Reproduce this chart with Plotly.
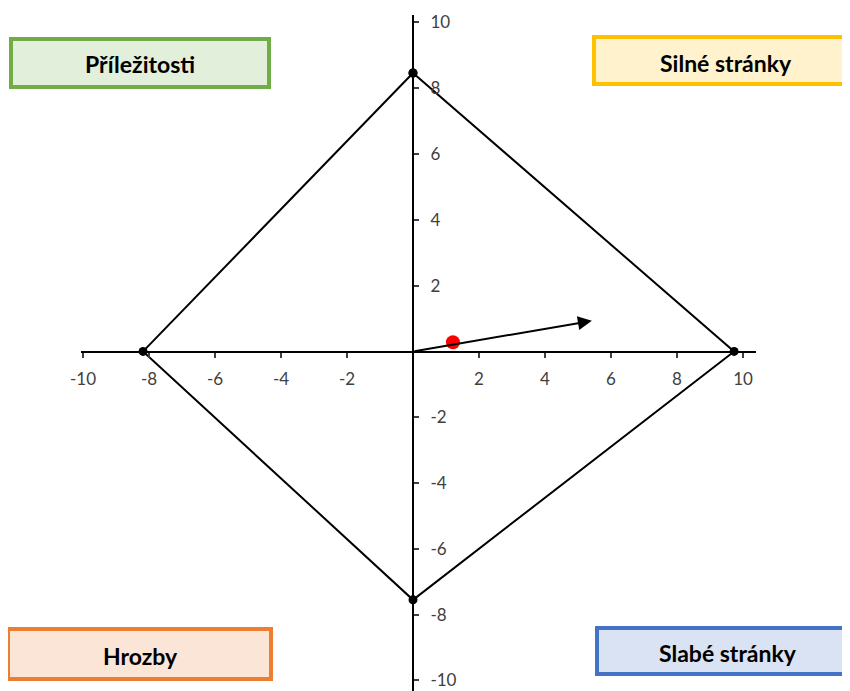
import plotly.graph_objects as go

# diamond vertices (top, right, bottom, left, back to top)
diamond_x = [0, 9.73, 0, -8.18, 0]
diamond_y = [8.46, 0, -7.55, 0, 8.46]

# resulting position and direction of the strategy vector
point_x = [1.21]
point_y = [0.28]
arrow_start = (0, 0)
arrow_end = (5.42, 0.93)

tick_vals = [-10, -8, -6, -4, -2, 2, 4, 6, 8, 10]
tick_text = [str(v) for v in tick_vals]

quadrant_labels = ["Příležitosti", "Silné stránky", "Hrozby", "Slabé stránky"]
quadrant_fill = ["#E2EFDA", "#FFF2CC", "#FBE5D6", "#DAE3F3"]
quadrant_line = ["#70AD47", "#FFC000", "#ED7D31", "#4472C4"]

# page body has an 8px margin, so the figure is a bit smaller than the window
OFF = 8
W, H = 850 - OFF, 691 - OFF


def px(x):
    return (x - OFF) / W


def py(y):
    return 1 - (y - OFF) / H


fig = go.Figure()
fig.add_trace(go.Scatter(
    x=diamond_x, y=diamond_y, mode="lines+markers",
    line=dict(color="black", width=2),
    marker=dict(color="black", size=9),
    hoverinfo="skip"
))
fig.add_trace(go.Scatter(
    x=point_x, y=point_y, mode="markers",
    marker=dict(color="#FF0000", size=14),
    hoverinfo="skip"
))
fig.add_annotation(
    x=arrow_end[0], y=arrow_end[1], ax=arrow_start[0], ay=arrow_start[1],
    xref="x", yref="y", axref="x", ayref="y",
    text="", showarrow=True, arrowhead=2, arrowsize=1.4, arrowwidth=2,
    arrowcolor="black"
)

# boxes with the quadrant names (pixel positions of the reference)
boxes = [(11, 39, 269, 87), (594, 37, 870, 84), (8, 629, 271, 679), (597, 628, 870, 674)]
centers = [(140, 64), (726, 63), (140, 656), (728, 653)]
for i, name in enumerate(quadrant_labels):
    x0, y0, x1, y1 = boxes[i]
    fig.add_shape(type="rect", xref="paper", yref="paper",
                  x0=px(x0), x1=px(x1), y0=py(y1), y1=py(y0),
                  fillcolor=quadrant_fill[i],
                  line=dict(color=quadrant_line[i], width=4))
    fig.add_annotation(x=px(centers[i][0]), y=py(centers[i][1]),
                       xref="paper", yref="paper", showarrow=False,
                       xanchor="center", yanchor="middle",
                       text="<b>" + name + "</b>",
                       font=dict(size=23, color="black", family="Lato"))

fig.update_layout(
    width=W, height=H,
    margin=dict(l=0, r=0, t=0, b=0, pad=0, autoexpand=False),
    showlegend=False,
    plot_bgcolor="white", paper_bgcolor="white",
    font=dict(family="Lato", size=17, color="#404040"),
    xaxis=dict(
        range=[-10.05, 10.4], domain=[px(81.35), px(756.2)],
        anchor="free", position=py(351.5), automargin=False,
        showline=True, linecolor="black", linewidth=2,
        showgrid=False, zeroline=False,
        tickvals=tick_vals, ticktext=tick_text,
        ticks="outside", ticklen=5, tickwidth=2, tickcolor="#404040",
        ticklabelstandoff=7, ticklabeloverflow="allow"
    ),
    yaxis=dict(
        range=[-10.32, 10.23], domain=[0, py(14.8)],
        anchor="free", position=px(413), side="right", automargin=False,
        showline=True, linecolor="black", linewidth=2,
        showgrid=False, zeroline=False,
        tickvals=tick_vals, ticktext=tick_text,
        ticks="outside", ticklen=5, tickwidth=2, tickcolor="#404040",
        ticklabelstandoff=8, ticklabeloverflow="allow"
    ),
)

fig.write_html("out.html")
